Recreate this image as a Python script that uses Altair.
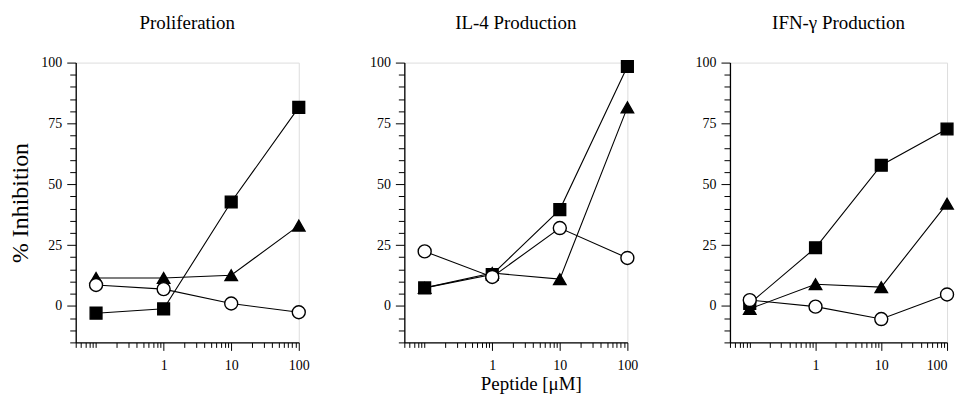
import altair as alt
import pandas as pd

# ---- data ----
conc = [0.1, 1, 10, 100]
panels = ["Proliferation", "IL-4 Production", "IFN-γ Production"]

prolif_square = [-3.0, -1.2, 42.7, 81.6]
prolif_triangle = [11.5, 11.5, 12.6, 33.0]
prolif_circle = [8.6, 6.9, 1.0, -2.6]

il4_square = [7.4, 12.9, 39.6, 98.4]
il4_triangle = [7.4, 13.5, 11.0, 81.6]
il4_circle = [22.4, 11.9, 32.0, 19.7]

ifn_square = [1.0, 23.9, 57.8, 72.7]
ifn_triangle = [-1.2, 8.9, 7.7, 42.0]
ifn_circle = [2.4, -0.3, -5.4, 4.7]

series_names = ["square", "triangle", "circle"]
panel_data = {
    "Proliferation": [prolif_square, prolif_triangle, prolif_circle],
    "IL-4 Production": [il4_square, il4_triangle, il4_circle],
    "IFN-γ Production": [ifn_square, ifn_triangle, ifn_circle],
}

x_ticks = [0.05, 0.06, 0.07, 0.08, 0.09,
           0.1, 0.2, 0.3, 0.4, 0.5, 0.6, 0.7, 0.8, 0.9,
           1, 2, 3, 4, 5, 6, 7, 8, 9,
           10, 20, 30, 40, 50, 60, 70, 80, 90, 100]
y_ticks = [-15, -10, -5, 0, 5, 10, 15, 20, 25, 30, 35, 40, 45, 50,
           55, 60, 65, 70, 75, 80, 85, 90, 95, 100]

FONT = "Liberation Serif"

def make_df(name):
    rows = []
    for s, vals in zip(series_names, panel_data[name]):
        for x, y in zip(conc, vals):
            rows.append({"series": s, "x": x, "y": y})
    return pd.DataFrame(rows)


def panel(name, ytitle=False, xtitle=False, yextent=36, flush=False, width=224):
    df = make_df(name)
    x_major = "datum.value == 1 || datum.value == 10 || datum.value == 100"
    xaxis = alt.Axis(
        values=x_ticks,
        labelExpr=f"({x_major}) ? format(datum.value, 'd') : ''",
        tickSize={"condition": {"test": x_major, "value": 8}, "value": 5},
        grid=False, labelOverlap=False, labelFlush=flush, labelBound=False,
        labelFont=FONT, labelFontSize=14, labelColor="black", labelPadding=8,
        domainColor="black", tickColor="black", domainWidth=1.3, tickWidth=1,
        title="Peptide [μM]" if xtitle else None,
        titleFont=FONT, titleFontSize=19, titleFontWeight="normal", titleColor="black",
        titlePadding=2, titleX=127, titleAlign="center",
    )
    y_major = "datum.value % 25 == 0"
    yaxis = alt.Axis(
        values=y_ticks,
        labelExpr=f"({y_major}) ? format(datum.value, 'd') : ''",
        tickSize={"condition": {"test": y_major, "value": 9}, "value": 6},
        grid=False, labelOverlap=False, labelFlush=False, labelBound=False,
        labelFont=FONT, labelFontSize=14, labelColor="black", labelPadding=5,
        domainColor="black", tickColor="black", domainWidth=1.3, tickWidth=1,
        title="% Inhibition" if ytitle else None,
        titleFont=FONT, titleFontSize=24, titleFontWeight="normal", titleColor="black",
        titlePadding=7,
        minExtent=yextent, maxExtent=yextent,
    )
    xenc = alt.X("x:Q", scale=alt.Scale(type="log", domain=[0.05, 100], nice=False), axis=xaxis)
    yenc = alt.Y("y:Q", scale=alt.Scale(domain=[-15, 100], nice=False, zero=False), axis=yaxis)
    base = alt.Chart(df)
    lines = base.mark_line(color="black", strokeWidth=1.1).encode(
        x=xenc, y=yenc, detail="series:N")
    pts = base.mark_point(filled=False, stroke="black", strokeWidth=1.4, opacity=1).encode(
        x=xenc, y=yenc,
        shape=alt.Shape("series:N", scale=alt.Scale(domain=series_names,
                        range=["square", "triangle-up", "circle"]), legend=None),
        fill=alt.Fill("series:N", scale=alt.Scale(domain=series_names,
                      range=["black", "black", "white"]), legend=None),
        size=alt.Size("series:N", scale=alt.Scale(domain=series_names,
                      range=[140, 170, 110]), legend=None),
    )
    return alt.layer(lines, pts).properties(
        width=width, height=281,
        title=alt.TitleParams(name, font=FONT, fontSize=19, fontWeight="normal",
                              color="black", anchor="middle", offset=23),
    )


chart = alt.hconcat(
    panel(panels[0], ytitle=True),
    panel(panels[1], xtitle=True, yextent=38),
    panel(panels[2], yextent=34, flush=True, width=218),
    spacing=56,
).properties(
    padding={"left": 0, "top": 4, "right": 0, "bottom": 0}
).configure_view(stroke=None).configure(background="white")

chart.save("out.html", embed_options={"renderer": "svg", "actions": False})
